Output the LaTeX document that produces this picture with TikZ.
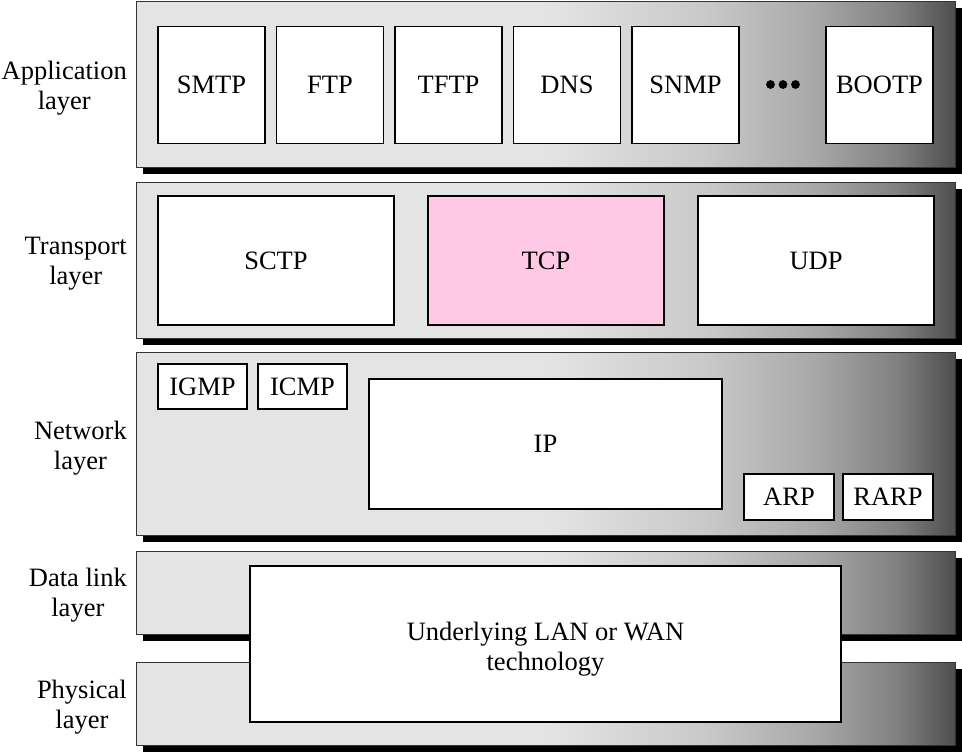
\documentclass[tikz,border=0pt]{standalone}
\usepackage{fontspec}
\setmainfont{Liberation Serif}
\usetikzlibrary{positioning, shadows}
\definecolor{layerLight}{HTML}{E4E4E4}
\definecolor{layerMidA}{HTML}{C8C8C8}
\definecolor{layerMidB}{HTML}{A8A8A8}
\definecolor{layerMidC}{HTML}{808080}
\definecolor{layerDark}{HTML}{4E4E4E}
\definecolor{bandLine}{HTML}{333333}
\definecolor{tcpPink}{HTML}{FFC8E4}
\pgfdeclarehorizontalshading{layerShade}{100bp}{color(0bp)=(layerLight);
  color(50bp)=(layerLight); color(60bp)=(layerMidA); color(66.5bp)=(layerMidB);
  color(71.5bp)=(layerMidC); color(75bp)=(layerDark); color(100bp)=(layerDark)}
\tikzset{
  layerBand/.style={rectangle, draw=bandLine, line width=0.9pt, shading=layerShade,
                    inner sep=0pt, outer sep=0pt, minimum width=819pt,
                    general shadow={fill=black, shadow xshift=7pt, shadow yshift=-7pt}},
  protoBox/.style={rectangle, draw=black, line width=1.3pt, fill=white,
                   inner sep=0pt, outer sep=0pt},
  appBox/.style={protoBox, minimum width=107pt, minimum height=117pt},
  tptBox/.style={protoBox, minimum width=236pt, minimum height=129pt},
  netBox/.style={protoBox, minimum width=89pt, minimum height=45pt},
  layerLabel/.style={anchor=east, align=center, inner sep=0pt},
}

\begin{document}
\begin{tikzpicture}[x=1pt, y=-1pt, node distance=11.5pt,
    font=\fontsize{26.5}{30}\selectfont]
    \useasboundingbox (0,0) rectangle (962,753);
    \node[layerBand, minimum height=166pt] (appBand) at (545.5,84) {};
    \node[layerBand, minimum height=156pt] (tptBand) at (545.5,260) {};
    \node[layerBand, minimum height=183pt] (netBand) at (545.5,443.5) {};
    \node[layerBand, minimum height=83pt]  (dlkBand) at (545.5,592.5) {};
    \node[layerBand, minimum height=83pt]  (phyBand) at (545.5,703.5) {};

    \node[layerLabel] (appLbl) at (127,88)  {Application\\layer};
    \node[layerLabel] (tptLbl) at (127,264) {Transport\\layer};
    \node[layerLabel] (netLbl) at (127,448) {Network\\layer};
    \node[layerLabel] (dlkLbl) at (127,595) {Data link\\layer};
    \node[layerLabel] (phyLbl) at (127,707) {Physical\\layer};

    \node[appBox] (smtp) at (211.5,85) {SMTP};
    \node[appBox, right=of smtp] (ftp)  {FTP};
    \node[appBox, right=of ftp]  (tftp) {TFTP};
    \node[appBox, right=of tftp] (dns)  {DNS};
    \node[appBox, right=of dns]  (snmp) {SNMP};
    \coordinate (dots) at (783,84.5);
    \foreach \dx in {-12.5,0,12.5}
      \fill ([xshift=\dx pt]dots) circle (4.4pt);
    \node[appBox] (bootp) at (879.5,85) {BOOTP};

    \node[tptBox] (sctp) at (276,260.5) {SCTP};
    \node[tptBox, fill=tcpPink, right=34pt of sctp] (tcp) {TCP};
    \node[tptBox, right=34pt of tcp] (udp) {UDP};

    \node[netBox] (igmp) at (202.5,386.5) {IGMP};
    \node[netBox, right=11pt of igmp] (icmp) {ICMP};
    \node[protoBox, minimum width=353pt, minimum height=130pt] (ip) at (545.5,444) {IP};
    \node[netBox, minimum width=90pt, minimum height=46pt] (arp) at (789,497) {ARP};
    \node[netBox, minimum width=90pt, minimum height=46pt, right=9pt of arp] (rarp) {RARP};

    \node[protoBox, align=center, text height=59pt, minimum width=591pt,
          minimum height=156pt] (lanwan) at (545.5,644) {Underlying LAN or WAN\\technology};
\end{tikzpicture}
\end{document}
